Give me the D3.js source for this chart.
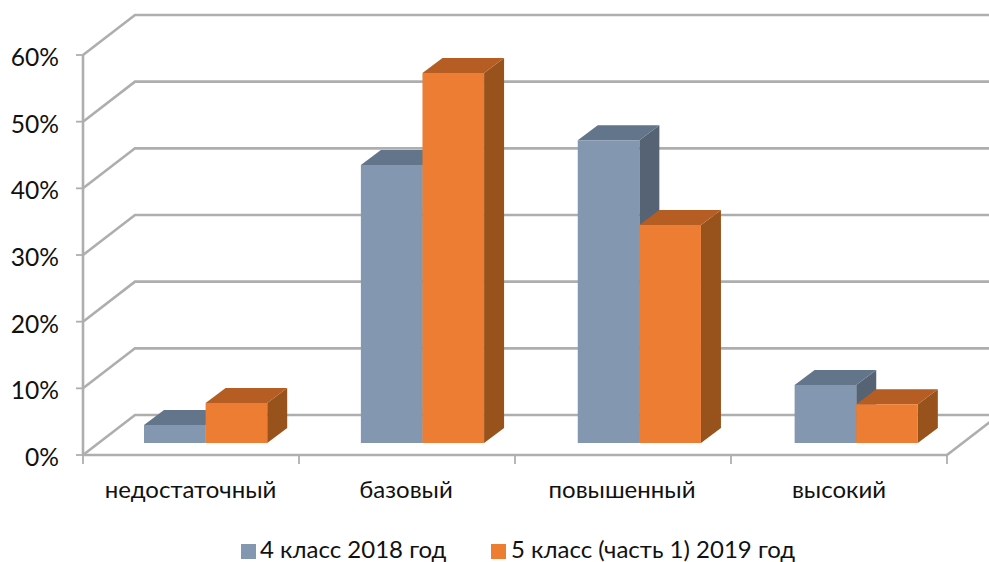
<!DOCTYPE html>
<html><head><meta charset="utf-8">
<script src="https://cdn.jsdelivr.net/npm/d3@7"></script>
<style>
html,body{margin:0;padding:0;background:#fff}
svg{display:block}
text{font-family:Lato,"Noto Sans",sans-serif;fill:#111}
</style></head><body>
<svg id="c" width="989" height="562"></svg>
<script>
const categories=["недостаточный","базовый","повышенный","высокий"];
const seriesNames=["4 класс 2018 год","5 класс (часть 1) 2019 год"];
const series2018=[2.7,41.7,45.4,8.7];
const series2019=[6,55.5,32.7,5.8];
const yTicks=[0,10,20,30,40,50,60];
const colors=[{f:"#8497b0",t:"#64748a",s:"#556375"},{f:"#ed7d31",t:"#b55d20",s:"#98521d"}];

const svg=d3.select("#c");
const defs=svg.append("defs");
defs.append("filter").attr("id","soft").attr("x","-5%").attr("y","-5%").attr("width","110%").attr("height","110%")
  .append("feGaussianBlur").attr("stdDeviation",0.7);
const root=svg.append("g").attr("filter","url(#soft)");

const x=d3.scaleBand().domain(categories).range([83,947]);
const barsX=d3.scaleBand().domain(categories).range([83,950.5]);
const y=d3.scaleLinear().domain([0,60]).range([455,55]);
const wall={dx:52,dy:-40};
const depthStart=0.3, barDepth={dx:20,dy:-15};
const barW=61.6;
const grid="#aeaeae";
const line=d3.line();

yTicks.forEach(t=>{
  const py=y(t);
  root.append("path").attr("fill","none").attr("stroke",grid).attr("stroke-width",2.6)
    .attr("d",line([[83,py],[83+wall.dx,py+wall.dy],[1010,py+wall.dy]]));
});
root.append("path").attr("fill","none").attr("stroke",grid).attr("stroke-width",2.6)
  .attr("d",line([[947+wall.dx,y(0)+wall.dy],[947,y(0)],[83,y(0)]]));
root.append("path").attr("stroke",grid).attr("stroke-width",2.6).attr("d",line([[83,y(60)],[83,y(0)]]));

const boundaries=categories.map(c=>x(c)).concat([x.range()[1]]);
root.selectAll(".xt").data(boundaries).join("line").attr("stroke",grid).attr("stroke-width",1.8)
  .attr("x1",d=>d).attr("x2",d=>d).attr("y1",y(0)).attr("y2",y(0)+9);
root.selectAll(".yt").data(yTicks).join("line").attr("stroke",grid).attr("stroke-width",1.8)
  .attr("x1",76).attr("x2",83).attr("y1",d=>y(d)).attr("y2",d=>y(d));

const baseY=y(0)+wall.dy*depthStart;
const offX=wall.dx*depthStart;
const groupPad=45.4;
function bar(cat,si,v){
  const c=colors[si];
  const x0=barsX(cat)+offX+groupPad+si*barW, x1=x0+barW;
  const top=baseY-(y(0)-y(v));
  const dx=barDepth.dx,dy=barDepth.dy;
  const g=root.append("g");
  g.append("path").attr("fill",c.s).attr("d",line([[x1,top],[x1+dx,top+dy],[x1+dx,baseY+dy],[x1,baseY]])+"Z");
  g.append("path").attr("fill",c.t).attr("d",line([[x0,top],[x0+dx,top+dy],[x1+dx,top+dy],[x1,top]])+"Z");
  g.append("path").attr("fill",c.f).attr("d",line([[x0,top],[x1,top],[x1,baseY],[x0,baseY]])+"Z");
}
categories.forEach((cat,i)=>{ bar(cat,0,series2018[i]); bar(cat,1,series2019[i]); });

svg.selectAll(".yl").data(yTicks).join("text").attr("x",59).attr("y",d=>y(d)+11)
  .attr("text-anchor","end").attr("font-size",24.6).text(d=>d+"%");
svg.selectAll(".xl").data(categories).join("text")
  .attr("x",(d,i)=>[190.5,406,622,839][i]).attr("y",498).attr("text-anchor","middle").attr("font-size",24).text(d=>d);

const lg=[{sx:241,tx:260},{sx:491,tx:511}];
seriesNames.forEach((n,i)=>{
  svg.append("rect").attr("x",lg[i].sx).attr("y",544).attr("width",15).attr("height",15).attr("fill",colors[i].f);
  svg.append("text").attr("x",lg[i].tx).attr("y",558).attr("font-size",24).text(n);
});
</script></body></html>
